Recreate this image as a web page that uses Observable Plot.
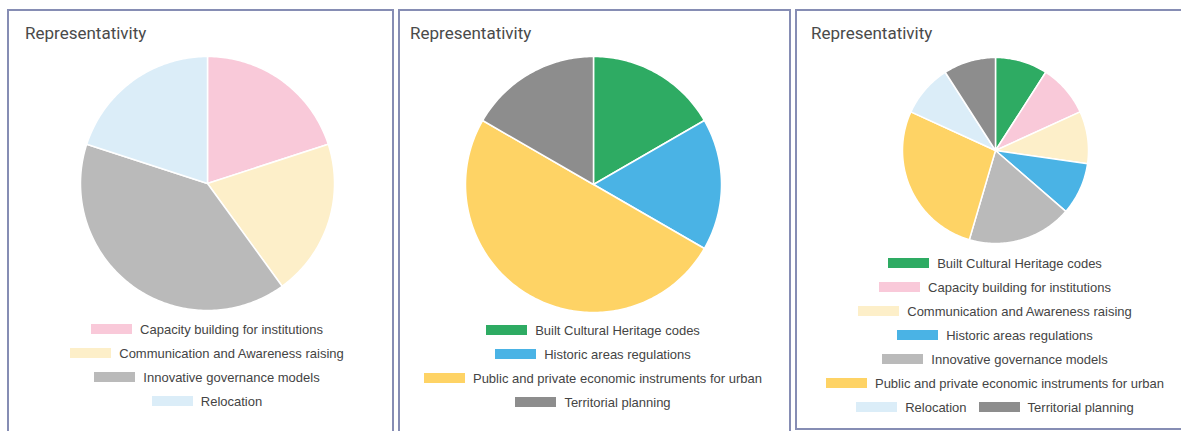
<!DOCTYPE html>
<html><head><meta charset="utf-8">
<script src="https://cdn.jsdelivr.net/npm/d3@7"></script>
<script src="https://cdn.jsdelivr.net/npm/@observablehq/plot@0.6"></script>
<style>
body{margin:0;width:1181px;height:431px;overflow:hidden;background:#fff;position:relative;}
.panel{position:absolute;box-sizing:border-box;border:2px solid #868db4;}
.title{position:absolute;font-family:Roboto,sans-serif;font-size:17px;line-height:20px;color:#4a4a4a;white-space:nowrap;}
.pie{position:absolute;}
.pie svg{overflow:visible;display:block;}
.legend{position:absolute;display:flex;flex-wrap:wrap;justify-content:center;column-gap:12px;font-family:"Liberation Sans",Arial,sans-serif;font-size:13px;color:#444;}
.item{display:flex;align-items:center;height:24px;white-space:nowrap;}
.sw{width:41px;height:10px;margin-right:8px;flex:none;}
</style></head><body>
<script>
// ---- data ----
const chartTitle = "Representativity";
const allCategories = [
  "Built Cultural Heritage codes",
  "Capacity building for institutions",
  "Communication and Awareness raising",
  "Historic areas regulations",
  "Innovative governance models",
  "Public and private economic instruments for urban",
  "Relocation",
  "Territorial planning"
];
const allColors = ["#2eab63","#f9c9d9","#fdefc9","#4ab3e5","#bababa","#fed365","#dbedf8","#8d8d8d"];

const categories1 = ["Capacity building for institutions","Communication and Awareness raising","Innovative governance models","Relocation"];
const values1 = [1, 1, 2, 1];

const categories2 = ["Built Cultural Heritage codes","Historic areas regulations","Public and private economic instruments for urban","Territorial planning"];
const values2 = [1, 1, 3, 1];

const categories3 = allCategories;
const values3 = [1, 1, 1, 1, 2, 3, 1, 1];

// ---- layout ----
const layout = [
  {box:[7,9,387,440], title:[25,23], cx:207, cy:183, r:127, legendTop:317, legendWidth:300},
  {box:[398,9,393,440], title:[410,23], cx:593, cy:184, r:128, legendTop:318, legendWidth:360},
  {box:[795,9,388,421], title:[811,23], cx:995, cy:150, r:93, legendTop:251, legendWidth:360}
];
const sets = [[categories1, values1],[categories2, values2],[categories3, values3]];

function pieRows(cats, vals) {
  const arcs = d3.pie().sort(null).value(d => d)(vals);
  const rows = [];
  arcs.forEach((a, i) => {
    const key = cats[i];
    rows.push({key, x: 0, y: 0});
    const n = Math.max(2, Math.ceil((a.endAngle - a.startAngle) / (Math.PI / 180)));
    for (let k = 0; k <= n; k++) {
      const t = a.startAngle + (a.endAngle - a.startAngle) * k / n;
      rows.push({key, x: Math.sin(t), y: Math.cos(t)});
    }
    rows.push({key, x: 0, y: 0});
  });
  return rows;
}

sets.forEach(([cats, vals], p) => {
  const L = layout[p];
  const panel = document.createElement("div");
  panel.className = "panel";
  Object.assign(panel.style, {left: L.box[0]+"px", top: L.box[1]+"px", width: L.box[2]+"px", height: L.box[3]+"px"});
  document.body.appendChild(panel);

  const t = document.createElement("div");
  t.className = "title";
  t.textContent = chartTitle;
  Object.assign(t.style, {left: L.title[0]+"px", top: L.title[1]+"px"});
  document.body.appendChild(t);

  const size = 2 * L.r;
  const plot = Plot.plot({
    width: size, height: size, margin: 0,
    x: {domain: [-1, 1], axis: null},
    y: {domain: [-1, 1], axis: null},
    color: {domain: allCategories, range: allColors},
    marks: [
      Plot.line(pieRows(cats, vals), {x: "x", y: "y", z: "key", fill: "key", stroke: "#fff", strokeWidth: 1.5, strokeLinejoin: "round"})
    ]
  });
  const holder = document.createElement("div");
  holder.className = "pie";
  Object.assign(holder.style, {left: (L.cx - L.r)+"px", top: (L.cy - L.r)+"px"});
  holder.appendChild(plot);
  document.body.appendChild(holder);

  const lg = document.createElement("div");
  lg.className = "legend";
  Object.assign(lg.style, {left: (L.cx - L.legendWidth/2)+"px", top: L.legendTop+"px", width: L.legendWidth+"px"});
  cats.forEach(c => {
    const it = document.createElement("div");
    it.className = "item";
    const sw = document.createElement("span");
    sw.className = "sw";
    sw.style.background = allColors[allCategories.indexOf(c)];
    const tx = document.createElement("span");
    tx.textContent = c;
    it.appendChild(sw); it.appendChild(tx);
    lg.appendChild(it);
  });
  document.body.appendChild(lg);
});
</script>
</body></html>
